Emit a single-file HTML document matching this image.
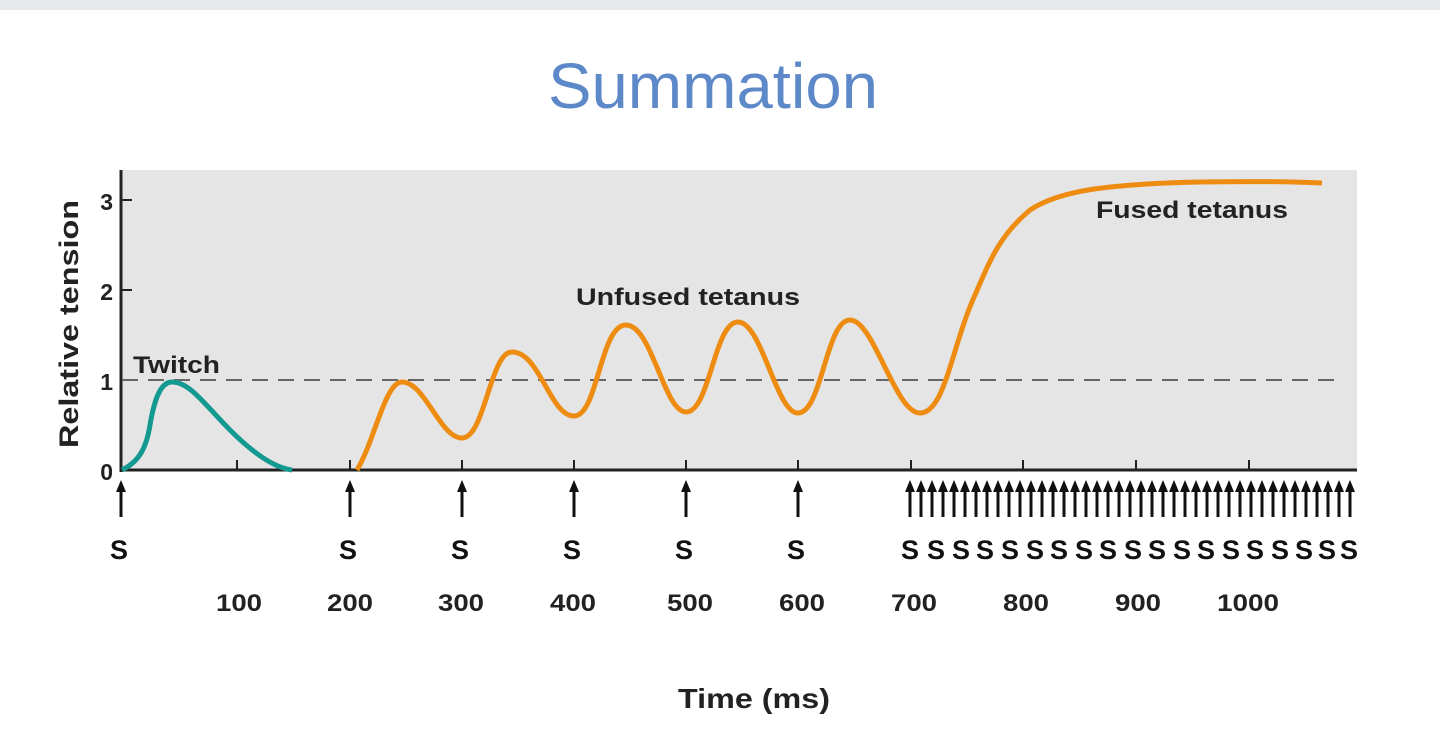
<!DOCTYPE html>
<html><head><meta charset="utf-8"><style>
html,body{margin:0;padding:0;background:#fff;}
svg{display:block}
text{font-family:"Liberation Sans",Arial,sans-serif;}
</style></head><body>
<svg width="1440" height="745" viewBox="0 0 1440 745" xmlns="http://www.w3.org/2000/svg">
<rect x="0" y="0" width="1440" height="10" fill="#e6e8ea"/>
<text x="713" y="108" text-anchor="middle" font-size="64" fill="#5d89c8" textLength="330" lengthAdjust="spacingAndGlyphs">Summation</text>
<rect x="122" y="170" width="1235" height="300" fill="#e5e5e5"/>
<line x1="121" y1="170" x2="121" y2="472" stroke="#222" stroke-width="3"/>
<line x1="120" y1="470" x2="1357" y2="470" stroke="#222" stroke-width="3"/>
<g stroke="#222" stroke-width="2">
<line x1="121" y1="200" x2="132" y2="200"/><line x1="121" y1="290" x2="132" y2="290"/><line x1="121" y1="380" x2="132" y2="380"/>
<line x1="237" y1="460" x2="237" y2="470"/><line x1="350" y1="460" x2="350" y2="470"/><line x1="462" y1="460" x2="462" y2="470"/><line x1="574" y1="460" x2="574" y2="470"/><line x1="686" y1="460" x2="686" y2="470"/><line x1="798" y1="460" x2="798" y2="470"/><line x1="911" y1="460" x2="911" y2="470"/><line x1="1023" y1="460" x2="1023" y2="470"/><line x1="1136" y1="460" x2="1136" y2="470"/><line x1="1249" y1="460" x2="1249" y2="470"/>
</g>
<g font-size="23" font-weight="bold" fill="#222" text-anchor="end">
<text x="113" y="210">3</text><text x="113" y="300">2</text><text x="113" y="390">1</text><text x="113" y="480">0</text>
</g>
<text transform="translate(78,324) rotate(-90)" text-anchor="middle" font-size="27" font-weight="bold" fill="#222" textLength="248" lengthAdjust="spacingAndGlyphs">Relative tension</text>
<line x1="122" y1="380" x2="1335" y2="380" stroke="#666" stroke-width="2" stroke-dasharray="16,10"/>
<path d="M122,470 C138,462 146,450 150,425 C155,395 162,382 172,382 C190,382 205,405 230,430 C255,455 275,468 292,470" fill="none" stroke="#13998f" stroke-width="5"/>
<path d="M357,470 C375,440 385,382 402,382 C425,382 440,438 462,438 C485,438 490,352 512,352 C540,352 550,416 574,416 C598,416 600,325 626,325 C652,325 664,412 686,412 C710,412 714,322 738,322 C762,322 776,413 798,413 C822,413 826,320 850,320 C874,320 895,413 920,413 C945,413 952,345 975,295 C990,260 1000,235 1030,210 C1060,190 1110,184 1200,182 C1260,181 1300,182 1322,183" fill="none" stroke="#ee8c12" stroke-width="5"/>
<g font-size="24" font-weight="bold" fill="#222">
<text x="133" y="373" textLength="87" lengthAdjust="spacingAndGlyphs">Twitch</text>
<text x="576" y="305" textLength="224" lengthAdjust="spacingAndGlyphs">Unfused tetanus</text>
<text x="1096" y="218" textLength="192" lengthAdjust="spacingAndGlyphs">Fused tetanus</text>
</g>
<defs><g id="ar"><line x1="0" y1="488" x2="0" y2="517" stroke="#111" stroke-width="3"/><polygon points="-5,492 5,492 0,480" fill="#111"/></g></defs>
<use href="#ar" x="121"/><use href="#ar" x="350"/><use href="#ar" x="462"/><use href="#ar" x="574"/><use href="#ar" x="686"/><use href="#ar" x="798"/>
<use href="#ar" x="910"/><use href="#ar" x="921"/><use href="#ar" x="932"/><use href="#ar" x="943"/><use href="#ar" x="954"/><use href="#ar" x="965"/><use href="#ar" x="976"/><use href="#ar" x="987"/><use href="#ar" x="998"/><use href="#ar" x="1009"/><use href="#ar" x="1020"/><use href="#ar" x="1031"/><use href="#ar" x="1042"/><use href="#ar" x="1053"/><use href="#ar" x="1064"/><use href="#ar" x="1075"/><use href="#ar" x="1086"/><use href="#ar" x="1097"/><use href="#ar" x="1108"/><use href="#ar" x="1119"/><use href="#ar" x="1130"/><use href="#ar" x="1141"/><use href="#ar" x="1152"/><use href="#ar" x="1163"/><use href="#ar" x="1174"/><use href="#ar" x="1185"/><use href="#ar" x="1196"/><use href="#ar" x="1207"/><use href="#ar" x="1218"/><use href="#ar" x="1229"/><use href="#ar" x="1240"/><use href="#ar" x="1251"/><use href="#ar" x="1262"/><use href="#ar" x="1273"/><use href="#ar" x="1284"/><use href="#ar" x="1295"/><use href="#ar" x="1306"/><use href="#ar" x="1317"/><use href="#ar" x="1328"/><use href="#ar" x="1339"/><use href="#ar" x="1350"/>
<g font-size="27" font-weight="bold" fill="#111" text-anchor="middle">
<text x="119" y="559">S</text><text x="348" y="559">S</text><text x="460" y="559">S</text><text x="572" y="559">S</text><text x="684" y="559">S</text><text x="796" y="559">S</text>
<text x="910" y="559">S</text><text x="936" y="559">S</text><text x="961" y="559">S</text><text x="985" y="559">S</text><text x="1010" y="559">S</text><text x="1035" y="559">S</text><text x="1059" y="559">S</text><text x="1084" y="559">S</text><text x="1108" y="559">S</text><text x="1133" y="559">S</text><text x="1157" y="559">S</text><text x="1182" y="559">S</text><text x="1206" y="559">S</text><text x="1231" y="559">S</text><text x="1255" y="559">S</text><text x="1280" y="559">S</text><text x="1304" y="559">S</text><text x="1327" y="559">S</text><text x="1349" y="559">S</text>
</g>
<g font-size="24" font-weight="bold" fill="#222" text-anchor="middle">
<text x="239" y="611" textLength="46" lengthAdjust="spacingAndGlyphs">100</text><text x="350" y="611" textLength="46" lengthAdjust="spacingAndGlyphs">200</text><text x="461" y="611" textLength="46" lengthAdjust="spacingAndGlyphs">300</text><text x="573" y="611" textLength="46" lengthAdjust="spacingAndGlyphs">400</text><text x="690" y="611" textLength="46" lengthAdjust="spacingAndGlyphs">500</text><text x="802" y="611" textLength="46" lengthAdjust="spacingAndGlyphs">600</text><text x="914" y="611" textLength="46" lengthAdjust="spacingAndGlyphs">700</text><text x="1026" y="611" textLength="46" lengthAdjust="spacingAndGlyphs">800</text><text x="1138" y="611" textLength="46" lengthAdjust="spacingAndGlyphs">900</text><text x="1248" y="611" textLength="62" lengthAdjust="spacingAndGlyphs">1000</text>
</g>
<text x="754" y="708" text-anchor="middle" font-size="28" font-weight="bold" fill="#222" textLength="152" lengthAdjust="spacingAndGlyphs">Time (ms)</text>
</svg>
</body></html>
